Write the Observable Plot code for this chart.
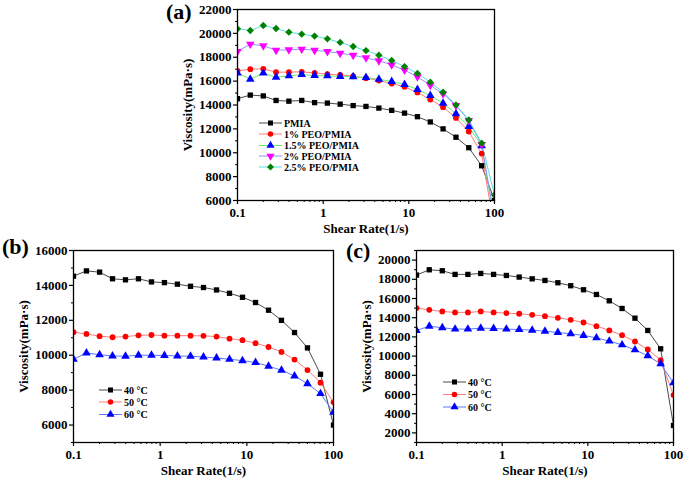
<!DOCTYPE html>
<html><head><meta charset="utf-8">
<script src="https://cdn.jsdelivr.net/npm/d3@7"></script>
<script src="https://cdn.jsdelivr.net/npm/@observablehq/plot@0.6"></script>
<style>
body{margin:0;background:#fff;}
#fig{position:relative;width:685px;height:479px;background:#fff;font-family:"Liberation Serif","Times New Roman",serif;font-weight:bold;overflow:hidden;}
.panel{position:absolute;}
.plabel{position:absolute;font-size:22px;font-weight:bold;line-height:1;color:#000;}
</style></head><body><div id="fig"></div>
<script>
// ---- data ----
const shearRate = [0.1, 0.141, 0.2, 0.282, 0.398, 0.562, 0.794, 1.12, 1.58, 2.24, 3.16, 4.47, 6.31, 8.91, 12.6, 17.8, 25.1, 35.5, 50.1, 70.8, 100];

// panel (a)
const namesA = ["PMIA", "1% PEO/PMIA", "1.5% PEO/PMIA", "2% PEO/PMIA", "2.5% PEO/PMIA"];
const aPMIA = [14530, 14830, 14760, 14380, 14320, 14380, 14200, 14160, 14070, 13950, 13880, 13740, 13550, 13320, 13020, 12580, 12000, 11300, 10420, 8910, 6000];
const aPEO1 = [16860, 17000, 17030, 16750, 16750, 16780, 16690, 16580, 16520, 16410, 16250, 16050, 15800, 15520, 15050, 14460, 13820, 12920, 11780, 9930, 3600];
const aPEO15 = [16690, 16160, 16670, 16330, 16440, 16550, 16470, 16440, 16390, 16360, 16300, 16160, 15970, 15720, 15300, 14790, 14150, 13260, 12200, 10580, 4200];
const aPEO2 = [18480, 19100, 18960, 18590, 18620, 18680, 18590, 18480, 18340, 18170, 17950, 17700, 17360, 16920, 16360, 15660, 14930, 13960, 12700, 10690, 4500];
const aPEO25 = [20380, 20240, 20660, 20410, 20100, 19930, 19770, 19540, 19240, 18900, 18560, 18170, 17730, 17220, 16640, 15910, 15070, 14010, 12750, 10800, 6470];

// panels (b) and (c)
const namesT = ["40 °C", "50 °C", "60 °C"];
const b40 = [14530, 14830, 14760, 14380, 14320, 14380, 14200, 14160, 14070, 13950, 13880, 13740, 13550, 13320, 13020, 12580, 12000, 11300, 10420, 8910, 6000];
const b50 = [11320, 11220, 11090, 11030, 11070, 11140, 11160, 11120, 11120, 11120, 11110, 11070, 10950, 10860, 10690, 10470, 10190, 9750, 9150, 8430, 7300];
const b60 = [9770, 10130, 10030, 9960, 9940, 10000, 10000, 9980, 9960, 9940, 9900, 9840, 9770, 9690, 9580, 9370, 9140, 8810, 8370, 7800, 6730];
const c40 = [18440, 18990, 18890, 18510, 18510, 18610, 18510, 18400, 18230, 18050, 17880, 17640, 17330, 16910, 16420, 15760, 14960, 13950, 12670, 10760, 2770];
const c50 = [15000, 14820, 14650, 14550, 14550, 14650, 14550, 14480, 14410, 14300, 14160, 13990, 13780, 13500, 13120, 12670, 12180, 11520, 10690, 9580, 5930];
const c60 = [12670, 13120, 12950, 12810, 12810, 12910, 12880, 12810, 12770, 12700, 12600, 12460, 12320, 12150, 11900, 11560, 11170, 10650, 10030, 9190, 7210];

// ticks
const xMajor = [0.1, 1, 10, 100];
const xMinor = [0.2, 0.3, 0.4, 0.5, 0.6, 0.7, 0.8, 0.9, 2, 3, 4, 5, 6, 7, 8, 9, 20, 30, 40, 50, 60, 70, 80, 90];
const yMajorA = [6000, 8000, 10000, 12000, 14000, 16000, 18000, 20000, 22000];
const yMinorA = [7000, 9000, 11000, 13000, 15000, 17000, 19000, 21000];
const yMajorB = [6000, 8000, 10000, 12000, 14000, 16000];
const yMinorB = [5000, 7000, 9000, 11000, 13000, 15000];
const yMajorC = [2000, 4000, 6000, 8000, 10000, 12000, 14000, 16000, 18000, 20000];
const yMinorC = [1000, 3000, 5000, 7000, 9000, 11000, 13000, 15000, 17000, 19000, 21000];

// ---- styles ----
const sty = {
  black:   {line: "#4a4a4a", fill: "#000000", symbol: "square",   r: 3.0, rot: 0,   d3sym: d3.symbolSquare},
  red:     {line: "#ff7b7b", fill: "#ff0000", symbol: "circle",   r: 2.9, rot: 0,   d3sym: d3.symbolCircle},
  blueG:   {line: "#66ee66", fill: "#0000ff", symbol: "triangle", r: 3.2, rot: 0,   d3sym: d3.symbolTriangle},
  magenta: {line: "#9090ff", fill: "#ff00ff", symbol: "triangle", r: 3.2, rot: 180, d3sym: d3.symbolTriangle},
  green:   {line: "#55e0e0", fill: "#008000", symbol: "diamond2", r: 3.3, rot: 0,   d3sym: d3.symbolDiamond2},
  blue:    {line: "#5b78ff", fill: "#0000ff", symbol: "triangle", r: 3.2, rot: 0,   d3sym: d3.symbolTriangle}
};

const seriesA = [
  {name: namesA[0], v: aPMIA, s: sty.black},
  {name: namesA[1], v: aPEO1, s: sty.red},
  {name: namesA[2], v: aPEO15, s: sty.blueG},
  {name: namesA[3], v: aPEO2, s: sty.magenta},
  {name: namesA[4], v: aPEO25, s: sty.green}
];
const seriesB = [
  {name: namesT[0], v: b40, s: sty.black},
  {name: namesT[1], v: b50, s: sty.red},
  {name: namesT[2], v: b60, s: sty.blue}
];
const seriesC = [
  {name: namesT[0], v: c40, s: sty.black},
  {name: namesT[1], v: c50, s: sty.red},
  {name: namesT[2], v: c60, s: sty.blue}
];

const fig = document.getElementById("fig");

function panel({left, top, width, height, margins, yDomain, yMajor, yMinor, series}) {
  const marks = [];
  for (const sr of series) {
    const data = shearRate.map((x, i) => ({x, y: sr.v[i]}));
    marks.push(Plot.line(data, {x: "x", y: "y", stroke: sr.s.line, strokeWidth: 1, clip: true}));
  }
  for (const sr of series) {
    const data = shearRate.map((x, i) => ({x, y: sr.v[i]}));
    marks.push(Plot.dot(data, {x: "x", y: "y", symbol: sr.s.symbol, fill: sr.s.fill, stroke: "none", r: sr.s.r, rotate: sr.s.rot, clip: true}));
  }
  const chart = Plot.plot({
    width, height,
    marginLeft: margins[0], marginRight: margins[1], marginTop: margins[2], marginBottom: margins[3],
    style: {fontFamily: '"Liberation Serif", "Times New Roman", serif', fontSize: "13px", fontWeight: "bold", color: "#000", background: "transparent", overflow: "visible"},
    x: {type: "log", domain: [0.1, 100]},
    y: {domain: yDomain},
    marks: [
      ...marks,
      Plot.frame({stroke: "#000", strokeWidth: 1.3}),
      Plot.axisX({ticks: xMajor, tickSize: 4, tickPadding: 3, tickFormat: d => String(d), label: "Shear Rate(1/s)", labelAnchor: "center", labelArrow: "none", labelOffset: 32, strokeWidth: 1.2}),
      Plot.axisX({ticks: xMinor, tickSize: 2, tickFormat: () => "", label: null}),
      Plot.axisY({ticks: yMajor, tickSize: 4, tickPadding: 2, tickFormat: d => String(d), label: "Viscosity(mPa·s)", labelAnchor: "center", labelArrow: "none", labelOffset: 55, strokeWidth: 1.2}),
      Plot.axisY({ticks: yMinor, tickSize: 2, tickFormat: () => "", label: null})
    ]
  });
  chart.classList.add("panel");
  chart.style.left = left + "px";
  chart.style.top = top + "px";
  fig.appendChild(chart);
}

panel({left: 160, top: 0, width: 360, height: 240, margins: [77, 26, 9, 40], yDomain: [6000, 22000], yMajor: yMajorA, yMinor: yMinorA, series: seriesA});
panel({left: 0, top: 235, width: 340, height: 244, margins: [73, 7, 15, 37], yDomain: [5000, 16000], yMajor: yMajorB, yMinor: yMinorB, series: seriesB});
panel({left: 340, top: 235, width: 345, height: 244, margins: [76, 12, 15, 37], yDomain: [1000, 21000], yMajor: yMajorC, yMinor: yMinorC, series: seriesC});

// panel labels
const plabels = [{t: "(a)", x: 166, y: 1}, {t: "(b)", x: 2, y: 236}, {t: "(c)", x: 346, y: 240}];
for (const p of plabels) {
  const d = document.createElement("div");
  d.className = "plabel";
  d.textContent = p.t;
  d.style.left = p.x + "px";
  d.style.top = p.y + "px";
  fig.appendChild(d);
}

// legends
const ov = d3.select(fig).append("svg")
  .attr("width", 685).attr("height", 479)
  .style("position", "absolute").style("left", 0).style("top", 0).style("pointer-events", "none");
function legend(series, x0, ys) {
  series.forEach((sr, i) => {
    const y = ys[i];
    ov.append("line").attr("x1", x0).attr("x2", x0 + 23).attr("y1", y).attr("y2", y)
      .attr("stroke", sr.s.line).attr("stroke-width", 1);
    ov.append("path").attr("d", d3.symbol(sr.s.d3sym, Math.PI * sr.s.r * sr.s.r * 0.9)())
      .attr("transform", `translate(${x0 + 11.5},${y}) rotate(${sr.s.rot})`)
      .attr("fill", sr.s.fill);
    ov.append("text").attr("x", x0 + 25).attr("y", y).attr("dy", "0.35em")
      .attr("font-family", '"Liberation Serif", "Times New Roman", serif')
      .attr("font-weight", "bold").attr("font-size", 10).attr("fill", "#000")
      .text(sr.name);
  });
}
legend(seriesA, 259, [123, 134, 145.5, 156, 167]);
legend(seriesB, 99, [390, 402, 414.5]);
legend(seriesC, 443, [382, 394.5, 407]);
</script></body></html>
